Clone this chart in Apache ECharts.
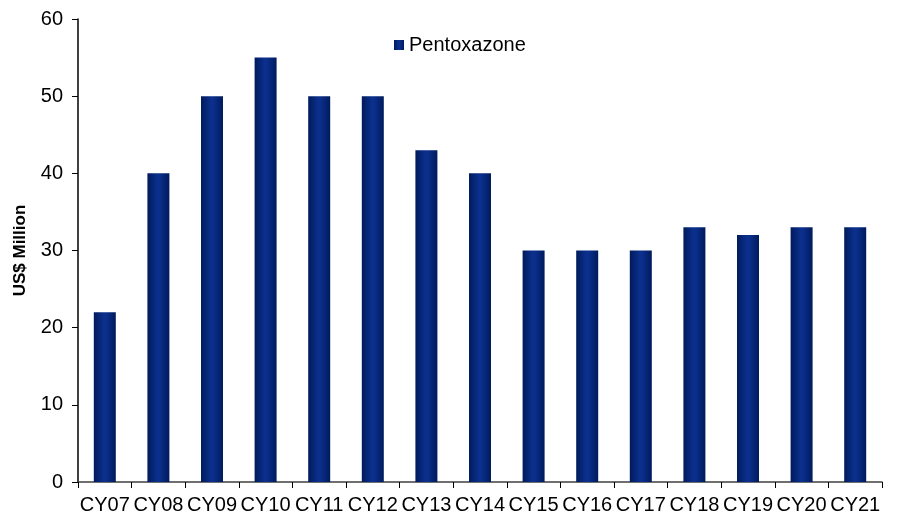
<!DOCTYPE html>
<html><head><meta charset="utf-8">
<script src="https://cdn.jsdelivr.net/npm/echarts@6/dist/echarts.min.js"></script>
<style>html,body{margin:0;padding:0;background:#fff}#c{width:899px;height:515px}</style>
</head><body><div id="c"></div>
<script>
const categories = ['CY07','CY08','CY09','CY10','CY11','CY12','CY13','CY14','CY15','CY16','CY17','CY18','CY19','CY20','CY21'];
const pentoxazone = [22,40,50,55,50,50,43,40,30,30,30,33,32,33,33];
const yTicks = {min:0, max:60, interval:10};
const seriesName = 'Pentoxazone';
const yTitle = 'US$ Million';

const chart = echarts.init(document.getElementById('c'));
const grad = new echarts.graphic.LinearGradient(0,0,1,0,[
  {offset:0,color:'#001b5c'},{offset:0.45,color:'#0b2f8c'},{offset:0.55,color:'#0b2f8c'},{offset:1,color:'#001b5c'}]);
chart.setOption({
  animation:false,
  textStyle:{fontFamily:'Liberation Sans, Arial, sans-serif'},
  legend:{data:[{name:seriesName,icon:'rect'}],left:389,top:30,itemWidth:10,itemHeight:10,itemGap:6,
    textStyle:{fontSize:20,color:'#000',fontFamily:'Liberation Sans'}},
  grid:{left:78,right:17,top:19,bottom:33,containLabel:false},
  xAxis:{type:'category',data:categories,
    axisLine:{lineStyle:{color:'#404040',width:1.5}},
    axisTick:{show:true,alignWithLabel:false,length:6,lineStyle:{color:'#000'}},
    axisLabel:{fontSize:20,color:'#000',margin:13,interval:0,fontFamily:'Liberation Sans'}},
  yAxis:{type:'value',min:yTicks.min,max:yTicks.max,interval:yTicks.interval,
    name:yTitle,nameLocation:'middle',nameGap:49,
    nameTextStyle:{fontSize:17,fontWeight:'bold',color:'#000',fontFamily:'Liberation Sans'},
    axisLine:{show:true,lineStyle:{color:'#000',width:1.5}},
    axisTick:{show:true,length:6,lineStyle:{color:'#000'}},
    splitLine:{show:false},
    axisLabel:{fontSize:20,color:'#000',margin:15,fontFamily:'Liberation Sans'}},
  series:[{name:seriesName,type:'bar',data:pentoxazone,barWidth:22,itemStyle:{color:grad}}]
});
</script></body></html>
